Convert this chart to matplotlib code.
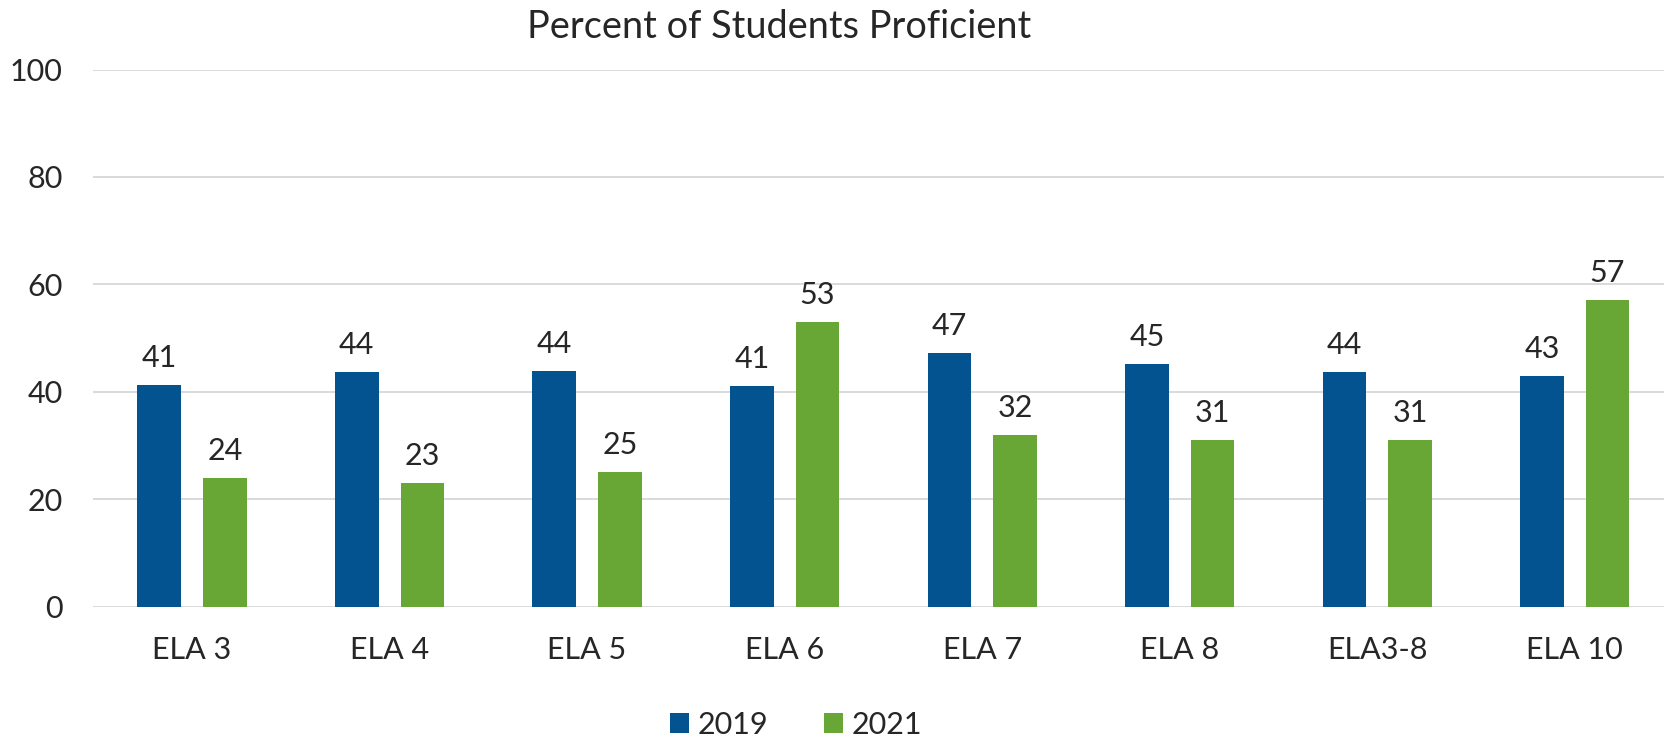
import numpy as np
import matplotlib
matplotlib.use("Agg")
import matplotlib.pyplot as plt

# data
categories = ["ELA 3", "ELA 4", "ELA 5", "ELA 6", "ELA 7", "ELA 8", "ELA3-8", "ELA 10"]
pct_2019 = [41.2, 43.7, 43.9, 41.1, 47.2, 45.1, 43.7, 43.0]
pct_2021 = [24.0, 23.0, 25.0, 53.0, 32.0, 31.0, 31.0, 57.1]
series_names = ["2019", "2021"]
yticks = [0, 20, 40, 60, 80, 100]

blue = "#02538f"
green = "#68a636"
txt = "#262626"
grid = "#d9d9d9"

plt.rcParams["font.family"] = ["Lato", "DejaVu Sans"]

fig = plt.figure(figsize=(16.65, 7.45), dpi=100)
ax = fig.add_axes([0.056, 0.1857, 0.944, 0.721])

x = np.arange(len(categories))
w = 0.221
off = 0.166
b1 = ax.bar(x - off, pct_2019, w, color=blue, label=series_names[0], zorder=3)
b2 = ax.bar(x + off, pct_2021, w, color=green, label=series_names[1], zorder=3)

for bars, vals in ((b1, pct_2019), (b2, pct_2021)):
    for r, v in zip(bars, vals):
        ax.annotate(f"{v:.0f}", (r.get_x() + r.get_width() / 2, r.get_height()),
                    xytext=(0, 13), textcoords="offset points",
                    ha="center", va="baseline", fontsize=22, color=txt)

ax.set_ylim(0, 100)
ax.set_xlim(-0.5, 7.457)
ax.set_yticks(yticks)
ax.set_xticks(x)
ax.set_xticklabels(categories)
for yv in yticks:
    ax.axhline(yv, color=grid, lw=1.4, zorder=1)
for s in ax.spines.values():
    s.set_visible(False)
ax.tick_params(axis="both", length=0, labelsize=22, colors=txt)
ax.tick_params(axis="y", pad=22)
ax.tick_params(axis="x", pad=21)

fig.text(779 / 1665, 1 - 27 / 745, "Percent of Students Proficient",
         ha="center", va="center", fontsize=27.3, color=txt)

fig.legend(handles=[b1, b2], loc="center", bbox_to_anchor=(796 / 1665, 1 - 725 / 745),
           ncol=2, frameon=False, fontsize=22, handlelength=0.62, handleheight=0.62,
           handletextpad=0.3, columnspacing=1.8, labelcolor=txt)

fig.savefig("out.png", dpi=100)
